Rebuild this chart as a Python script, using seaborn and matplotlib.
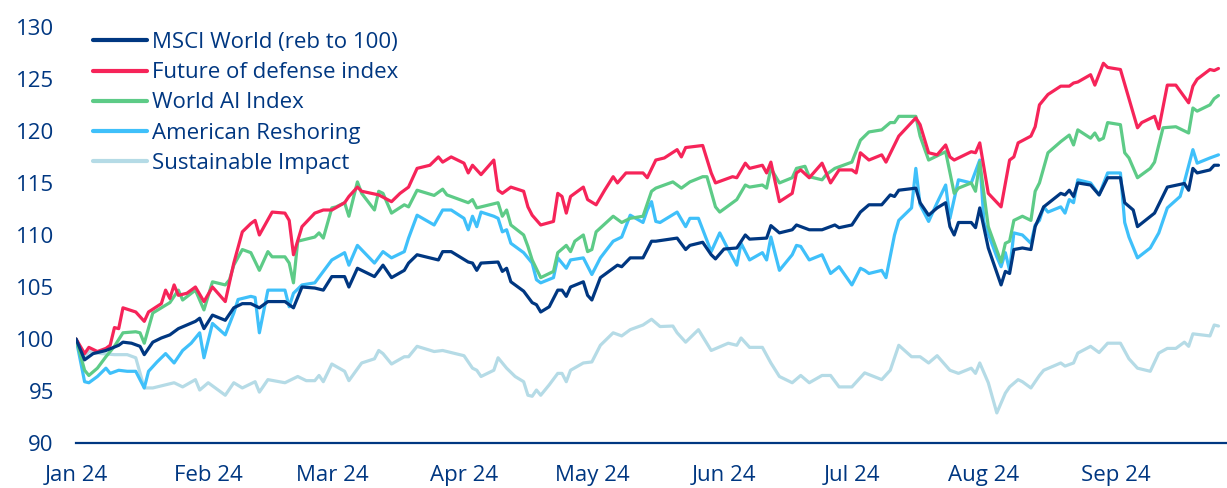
import pandas as pd
import numpy as np
import matplotlib
matplotlib.use("Agg")
import matplotlib.pyplot as plt
import matplotlib.dates as mdates
import seaborn as sns

# data: days counted from 1 Jan 2024, index levels (rebased to 100)
msci_days = [0, 2, 4, 7, 10, 11, 13, 15, 16, 18, 20, 22, 24, 28, 29, 30, 32, 35, 37, 39, 41, 43,
             45, 49, 51, 53, 56, 58, 60, 63, 64, 66, 70, 72, 74, 77, 78, 80, 85, 86, 88,
             90, 92, 93, 94, 95, 99, 100, 101, 102, 105, 107, 108, 109, 111, 113, 114, 115, 116,
             119, 120, 121, 123, 127, 128, 130, 132,
             133, 135, 136, 141, 143, 144, 147, 149, 150, 152, 155, 157, 158, 162, 163, 165, 168,
             169, 172, 175, 178, 179, 182, 184, 186, 189, 191, 192, 193, 197, 198, 200, 202, 204,
             205, 206, 207, 210, 211, 212, 214, 217, 218, 219, 220, 222, 224, 225, 227, 231, 232,
             233, 234, 235, 238, 240, 242, 245, 246, 248, 249, 253, 256, 260, 261, 262, 263, 266,
             267, 268]
msci = [100.0, 98.0, 98.6, 98.9, 99.4, 99.7, 99.6, 99.3, 98.5, 99.7, 100.1, 100.4, 101.0, 101.7,
        102.0, 101.0, 102.3, 101.8, 103.0, 103.4, 103.4, 103.0,
        103.6, 103.6, 103.0, 105.0, 104.9, 104.7, 106.0, 106.0, 105.0, 106.8, 106.0, 107.1, 105.9,
        106.6, 107.3, 108.1, 107.6, 108.4, 108.4,
        107.9, 107.4, 107.3, 106.6, 107.3, 107.4, 106.5, 106.8, 105.5, 104.6, 103.5, 103.3, 102.6,
        103.1, 104.7, 104.7, 104.1, 105.0, 105.5, 104.2, 103.75, 105.9, 107.1, 106.95, 107.8, 107.8,
        107.8, 109.4, 109.4, 109.7, 108.6, 109.0, 109.3, 108.1, 107.7, 108.65, 108.75, 110.0, 109.6,
        109.7, 110.9, 110.2, 110.5, 110.96, 110.5, 110.5, 110.96, 110.7, 110.96, 112.2, 112.9,
        112.9, 113.85, 113.7, 114.3, 114.5, 113.1, 111.9, 112.6, 113.1, 110.8, 110.0, 111.2, 111.2,
        110.7, 112.6, 108.75, 105.2, 106.5, 106.3, 108.6, 108.75, 108.6, 110.8, 112.7, 114.0,
        113.85, 114.3, 113.7, 115.0, 114.8, 113.85, 115.5, 115.5, 113.1, 112.4, 110.8, 112.1,
        114.6, 114.95, 114.3, 116.4, 115.96, 116.25, 116.7, 116.7]

defense_days = [0, 2, 3, 5, 7, 8, 9, 10, 11, 14, 16, 17, 20, 21, 22, 23, 24, 26, 28, 30, 32, 35,
                37, 39, 41, 42, 43, 46, 49, 50, 51, 53, 56, 58, 60, 63, 64, 66, 67, 71, 74, 76, 78,
                80, 83, 85, 86, 88, 91, 92, 93, 95, 98, 99, 100, 102, 105, 106, 107, 109, 112, 113,
                114, 115, 116, 119, 120, 122, 124, 126, 127, 129, 130, 133, 134, 136, 138, 141,
                142, 143, 147, 149, 150, 154, 155, 157, 158, 161, 162, 163, 165, 168, 169, 170,
                172, 173, 175, 177, 179, 182, 183, 184, 186, 189, 190, 193, 197, 198, 200, 202,
                204, 205, 206, 210, 211, 212, 214, 217, 219, 220, 221, 224, 225, 226, 228, 231,
                233, 234, 235, 238, 239, 241, 242, 245, 247, 249, 250, 253, 254, 256, 258, 261,
                262, 263, 266, 267, 268]
defense = [100.0, 98.6, 99.2, 98.8, 99.1, 99.4, 101.1, 101.0, 103.0, 102.6, 101.7, 102.6, 103.4,
           104.7, 103.9, 105.2, 104.2, 104.4, 105.0, 103.6, 105.0, 103.6,
           107.3, 110.3, 111.1, 111.4, 110.0, 112.2, 112.1, 111.4, 108.1, 110.8, 112.1, 112.4,
           112.4, 113.1, 113.7, 114.6, 114.2, 113.85, 113.2, 114.0, 114.6,
           116.4, 116.7, 117.5, 117.0, 117.5, 116.9, 115.96, 116.7, 115.8, 117.2, 114.3, 114.0,
           114.6, 114.2, 112.7, 111.9, 110.96, 111.3, 114.0,
           113.7, 112.1, 113.7, 114.6, 113.4, 112.9, 114.3, 115.6, 115.0, 115.96, 115.96, 115.96,
           115.5, 117.2, 117.4, 118.2,
           117.5, 118.4, 118.6, 115.96, 115.0, 115.6, 115.5, 116.9, 116.4, 116.7, 115.96, 117.0,
           113.2, 114.0, 115.96, 116.25,
           115.5, 115.96, 116.9, 115.0, 116.25, 116.25, 115.96, 117.9, 117.2, 117.7, 117.0, 119.5,
           121.25, 120.6, 117.9, 117.7,
           118.65, 117.5, 117.2, 118.0, 117.9, 118.85, 114.0, 112.7, 117.2, 117.5, 118.85, 119.5,
           120.4, 122.5, 123.5, 124.3,
           124.3, 124.6, 124.7, 125.4, 124.4, 126.5, 126.1, 125.9, 123.1, 120.3, 120.8, 121.4,
           120.2, 124.4, 124.4, 122.7,
           124.3, 124.97, 125.9, 125.8, 126.0]

ai_days = [0, 2, 3, 5, 7, 9, 11, 14, 15, 16, 18, 20, 22, 24, 25, 28, 30, 32, 35, 36, 37, 39, 41,
           43, 45, 46, 49, 50, 51, 52, 56, 57, 58, 60, 61, 63, 64, 66, 67, 70, 71, 72, 74, 77, 78,
           80, 84, 86, 87, 88, 92, 93, 94, 99, 100, 101, 102, 105, 106, 107, 109, 112, 113, 115,
           116, 117, 119, 120, 121, 122, 126, 128, 130, 133, 135, 136, 140, 142, 144, 147, 148,
           150, 151, 155, 157, 158, 161, 162, 163, 165, 168, 169, 171, 172, 175, 176, 178, 182,
           184, 186, 189, 191, 192, 193, 197, 198, 200, 204, 206, 207, 210, 211, 212, 214, 217,
           218, 219, 220, 222, 224, 225, 226, 228, 231, 233, 234, 235, 238, 239, 240, 241, 242,
           245, 246, 247, 249, 252, 253, 255, 258, 261, 262, 263, 266, 267, 268]
ai = [100.0, 97.0, 96.5, 97.2, 98.3, 99.3, 100.6, 100.7, 100.6, 99.6, 102.5, 103.0, 103.5, 104.7,
      103.75, 104.7, 102.8, 105.5, 105.2, 105.7, 107.1, 108.6, 108.3,
      106.6, 108.4, 107.9, 107.9, 107.3, 105.4, 109.4, 109.8, 110.2, 109.7, 112.6, 112.7, 113.1,
      111.8, 115.1, 114.0, 112.4, 114.2, 114.0, 112.1, 112.9, 112.7,
      114.3, 113.8, 114.4, 113.85, 113.7, 113.1, 113.4, 112.6, 113.1, 111.8, 112.4, 110.96, 110.0,
      108.9, 107.6, 105.9, 106.5, 108.3, 109.0,
      108.4, 109.4, 110.0, 108.4, 108.6, 110.3, 111.8, 111.2, 111.6, 111.8, 114.2, 114.5, 115.1,
      114.5, 115.1, 115.6, 115.6,
      112.7, 112.2, 113.4, 114.8, 114.6, 114.8, 114.5, 116.4, 115.0, 115.5, 116.4, 116.6, 115.6,
      115.3, 115.8, 116.4, 117.0,
      119.1, 119.9, 120.1, 120.8, 120.8, 121.4, 121.4, 119.5, 117.2, 118.0, 114.0, 114.5, 115.0,
      114.2, 117.0, 110.8, 107.4,
      109.2, 109.4, 111.4, 111.8, 111.4, 114.2, 115.0, 117.9, 118.97, 119.6, 118.65, 120.1,
      119.3, 119.8, 119.1, 119.3, 120.8,
      120.6, 117.9, 117.4, 115.5, 116.4, 117.0, 120.3, 120.4, 119.8, 122.2, 121.9, 122.5, 123.1,
      123.4]

reshoring_days = [0, 2, 3, 5, 7, 8, 10, 12, 14, 16, 17, 19, 21, 23, 25, 27, 29, 30, 32, 35, 37,
                  38, 41, 42, 43, 45, 49, 50, 51, 53, 56, 60, 63, 64, 66, 70, 72, 74, 77, 78, 80,
                  84, 86, 88, 91, 92, 93, 94, 95, 98, 99, 100, 101, 102, 105, 107, 108, 109, 112,
                  113, 115, 116, 119, 121, 123, 126, 128, 130, 133, 134, 135, 136, 137, 141, 143,
                  144, 146, 149, 151, 153, 155, 156, 158, 161, 162, 163, 165, 168, 169, 170, 172,
                  175, 177, 179, 182, 184, 185, 186, 189, 190, 192, 193, 196, 197, 198, 200, 202,
                  204, 205, 207, 210, 212, 213, 216, 217, 218, 219, 220, 222, 224, 225, 226, 227,
                  228, 231, 232, 233, 234, 235, 238, 240, 242, 245, 246, 247, 249, 252, 254, 256,
                  259, 260, 262, 263, 266, 268]
reshoring = [100.0, 95.9, 95.8, 96.4, 97.2, 96.7, 97.0, 96.9, 96.9, 95.3, 96.9, 97.8, 98.6, 97.7,
             98.9, 99.6, 100.6, 98.2, 101.5, 100.4, 102.5,
             103.8, 104.1, 104.0, 100.6, 104.7, 104.7, 103.1, 104.4, 105.2, 105.4, 107.6, 108.3,
             107.1, 109.0, 107.3, 108.4, 107.8, 108.4, 109.7, 111.9,
             110.96, 112.4, 112.4, 111.6, 110.5, 111.8, 110.8, 112.2, 111.8, 111.6, 110.3, 110.5,
             109.2, 108.3, 107.3, 105.7, 105.4, 105.9,
             107.8, 106.8, 107.6, 107.8, 106.2, 107.8, 109.4, 109.8, 111.9, 111.2, 112.4, 113.2,
             111.3, 111.2, 112.2, 110.8,
             111.6, 111.6, 108.4, 110.2, 108.6, 107.1, 109.2, 107.6, 108.3, 107.6, 109.8, 106.6,
             108.1, 109.0, 108.9, 107.6,
             108.1, 106.3, 106.95, 105.2, 106.8, 106.6, 106.3, 106.6, 105.9, 110.0, 111.4, 112.6,
             116.4, 112.9, 111.3, 113.1,
             114.8, 111.6, 115.3, 115.0, 117.2, 111.2, 107.9, 106.95, 108.3, 106.6, 110.2, 110.0,
             109.2, 110.96, 111.4, 112.7,
             112.2, 112.7, 112.1, 113.4, 113.1, 115.3, 115.0, 113.85, 115.96, 115.96, 111.2, 109.8,
             107.8, 108.75, 110.2, 112.6,
             113.7, 115.1, 118.2, 116.9, 117.4, 117.7]

impact_days = [0, 2, 3, 6, 9, 12, 14, 16, 18, 21, 23, 25, 28, 29, 31, 35, 37, 39, 42, 43, 45, 49,
               52, 54, 56, 57, 58, 60, 63, 64, 67, 70, 71, 72, 74, 77, 78, 80, 84, 86, 88, 91, 93,
               94, 95, 98, 99, 101, 103, 105, 106, 107, 108, 109, 111, 113, 114, 115, 116, 119, 121,
               123, 126, 128, 130, 133, 135, 137, 140, 141, 143, 146, 149, 153, 155, 156, 158, 161,
               163, 165, 168, 170, 172, 175, 177, 179, 182, 185, 189, 191, 193, 196, 198, 200, 202,
               205, 207, 210, 211, 212, 214, 216, 218, 219, 221, 222, 224, 226, 227, 231, 232, 234,
               235, 238, 240, 242, 245, 247, 249, 252, 254, 256, 258, 260, 261, 262, 266, 267, 268]
impact = [100.0, 98.3, 98.8, 98.6, 98.5, 98.5, 98.2, 95.3, 95.3, 95.6, 95.8, 95.4, 96.1, 95.1, 95.8,
          94.6, 95.8, 95.3, 95.9, 94.9, 96.1, 95.8,
          96.4, 96.0, 96.0, 96.5, 95.9, 97.6, 96.9, 96.0, 97.7, 98.1, 98.9, 98.6, 97.6, 98.3, 98.3,
          99.3, 98.8, 98.9, 98.7, 98.4, 97.2,
          97.0, 96.4, 97.0, 98.2, 97.2, 96.4, 95.9, 94.6, 94.5, 95.1, 94.6, 95.6, 96.7, 96.7, 95.9,
          97.0, 97.7, 97.8,
          99.4, 100.6, 100.3, 100.9, 101.35, 101.9, 101.2, 101.25, 100.6, 99.7, 100.9, 98.9, 99.6,
          99.4, 100.1, 99.2, 99.2,
          97.7, 96.4, 95.8, 96.5, 95.8, 96.5, 96.5, 95.4, 95.4, 96.75, 96.1, 97.0, 99.4, 98.3, 98.3,
          97.7, 98.4,
          97.0, 96.7, 97.2, 96.7, 97.7, 95.8, 92.9, 94.8, 95.4, 96.1, 95.9, 95.3, 96.5, 97.0, 97.7,
          97.4, 97.7,
          98.65, 99.3, 98.7, 99.6, 99.6, 98.1, 97.2, 96.9, 98.65, 99.1, 99.1, 99.7, 99.3, 100.5,
          100.3, 101.35, 101.25]

labels = ["MSCI World (reb to 100)", "Future of defense index", "World AI Index",
          "American Reshoring", "Sustainable Impact"]
colors = ["#003781", "#F62459", "#5DCB87", "#3FC0FA", "#B5DBE6"]

start = pd.Timestamp("2024-01-01")
frames = []
for name, days, vals in zip(labels,
                            [msci_days, defense_days, ai_days, reshoring_days, impact_days],
                            [msci, defense, ai, reshoring, impact]):
    frames.append(pd.DataFrame({"date": start + pd.to_timedelta(days, unit="D"),
                                "value": vals, "series": name}))
df = pd.concat(frames, ignore_index=True)

sns.set_style("white")
plt.rcParams["font.family"] = ["Open Sans", "DejaVu Sans"]
navy = "#003781"

fig = plt.figure(figsize=(12.27, 4.88), dpi=100)
ax = fig.add_axes([0.062, 0.092, 0.938, 0.853])

# draw the back series first so that the MSCI line sits on top like the original
for name, col in list(zip(labels, colors))[::-1]:
    sns.lineplot(data=df[df.series == name], x="date", y="value", color=col,
                 linewidth=2.3, ax=ax, label=name, estimator=None)

ax.set_xlim(start, start + pd.Timedelta(days=270))
ax.set_ylim(90, 130)
ax.set_yticks(np.arange(90, 131, 5))
ax.xaxis.set_major_locator(mdates.MonthLocator())
ax.xaxis.set_major_formatter(mdates.DateFormatter("%b %y"))
ax.set_xlabel("")
ax.set_ylabel("")
for s in ["top", "right", "left"]:
    ax.spines[s].set_visible(False)
ax.spines["bottom"].set_color(navy)
ax.spines["bottom"].set_linewidth(1.6)
ax.tick_params(axis="both", length=0, labelsize=16, labelcolor=navy)
ax.tick_params(axis="y", pad=16)
ax.tick_params(axis="x", pad=16)
for t in ax.get_yticklabels():
    t.set_horizontalalignment("right")

handles, lbls = ax.get_legend_handles_labels()
order = [lbls.index(l) for l in labels]
leg = ax.legend([handles[i] for i in order], labels, loc="upper left",
                bbox_to_anchor=(0.0755, 0.934), bbox_transform=fig.transFigure,
                frameon=False, fontsize=16, handlelength=2.43, handletextpad=0.23,
                labelspacing=0.41, borderaxespad=0, borderpad=0)
for h in leg.get_lines():
    h.set_linewidth(3)
for t in leg.get_texts():
    t.set_color(navy)

fig.savefig("out.png", dpi=100)
